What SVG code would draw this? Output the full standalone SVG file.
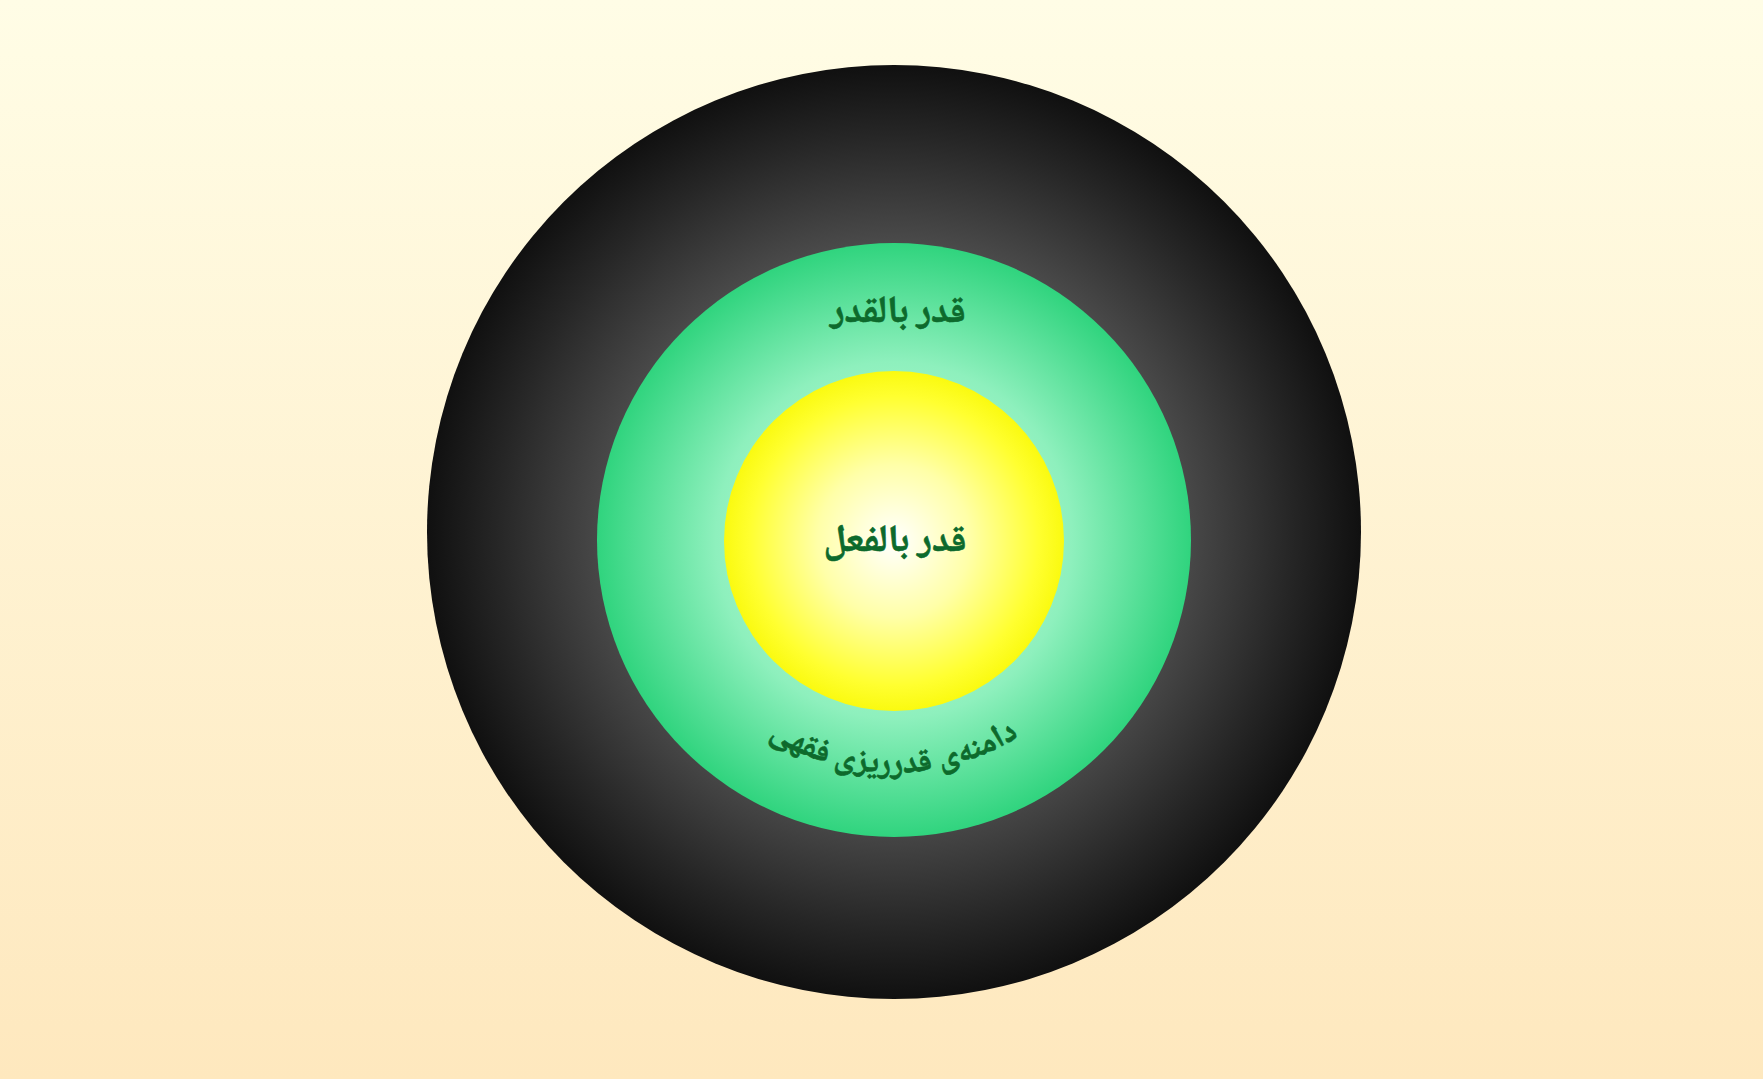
<svg xmlns="http://www.w3.org/2000/svg" width="1763" height="1079" viewBox="0 0 1763 1079">
<defs>
<linearGradient id="bg" x1="0" y1="0" x2="0" y2="1">
<stop offset="0" stop-color="#fffde6"/>
<stop offset="1" stop-color="#fee8be"/>
</linearGradient>
<radialGradient id="gBlack" cx="0.5" cy="0.5" r="0.5">
<stop offset="0" stop-color="#5a5a5a"/>
<stop offset="0.62" stop-color="#4a4a4a"/>
<stop offset="0.85" stop-color="#262626"/>
<stop offset="1" stop-color="#101010"/>
</radialGradient>
<radialGradient id="gGreen" cx="0.5" cy="0.5" r="0.5">
<stop offset="0" stop-color="#c8ffe6"/>
<stop offset="0.6" stop-color="#8ef0bd"/>
<stop offset="1" stop-color="#30d47e"/>
</radialGradient>
<radialGradient id="gYellow" cx="0.5" cy="0.5" r="0.5">
<stop offset="0" stop-color="#ffffff"/>
<stop offset="0.45" stop-color="#ffffa8"/>
<stop offset="0.85" stop-color="#ffff30"/>
<stop offset="1" stop-color="#fafa10"/>
</radialGradient>
<path id="arc" d="M 662 541 A 232 232 0 0 0 1126 541"/>
</defs>
<style>
.lbl{font-family:"Noto Naskh Arabic","Noto Sans Arabic","DejaVu Sans",sans-serif;font-weight:bold;fill:#0d6a2c;text-anchor:middle;direction:rtl;stroke:#0d6a2c;stroke-width:0.6;}
</style>
<rect width="1763" height="1079" fill="url(#bg)"/>
<g id="outer">
<circle cx="894" cy="532" r="467" fill="url(#gBlack)"/>
</g>
<g id="middle">
<circle cx="894" cy="540" r="297" fill="url(#gGreen)"/>
<text class="lbl" x="898" y="322" font-size="38">قدر بالقدر</text>
<text class="lbl" font-size="33"><textPath href="#arc" startOffset="50%">دامنه‌ی قدرریزی فقهی</textPath></text>
</g>
<g id="inner">
<circle cx="894" cy="541" r="170" fill="url(#gYellow)"/>
<text class="lbl" x="895" y="551" font-size="38">قدر بالفعل</text>
</g>
</svg>
